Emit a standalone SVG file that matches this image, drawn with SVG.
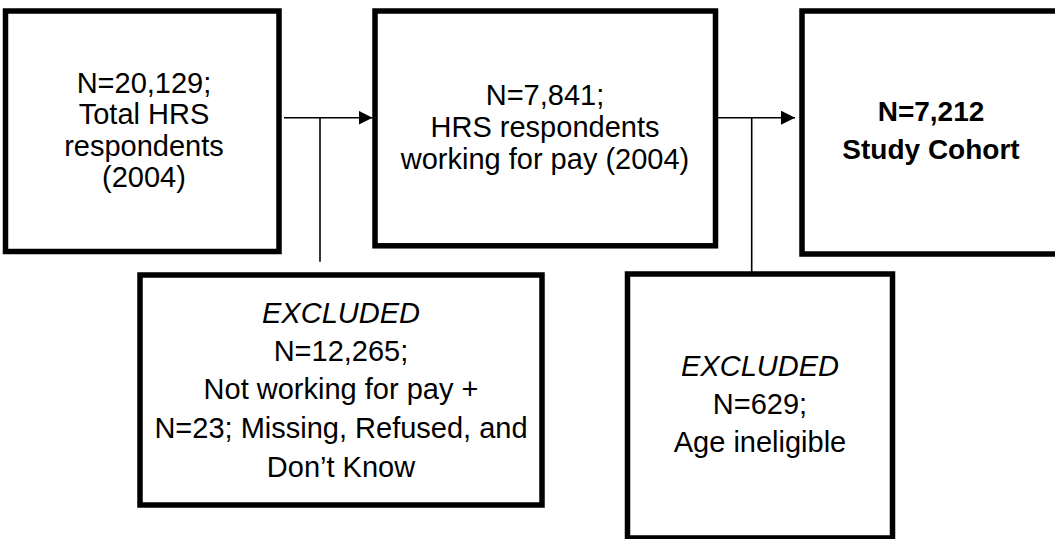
<svg xmlns="http://www.w3.org/2000/svg" width="1055" height="539" viewBox="0 0 1055 539">
  <defs>
    <style>
      .box { fill: #ffffff; stroke: #000000; stroke-width: 5.5; }
      .conn { fill: none; stroke: #000000; stroke-width: 1.6; }
      .txt { font-family: "Liberation Sans", Arial, sans-serif; font-size: 29px; fill: #000000; text-anchor: middle; }
      .bold { font-weight: bold; font-size: 28px; }
      .ital { font-style: italic; }
    </style>
    <marker id="arrow" viewBox="0 0 14 14" refX="14" refY="7" markerWidth="14" markerHeight="14" markerUnits="userSpaceOnUse" orient="auto">
      <path d="M0,0 L14,7 L0,14 Z" fill="#000000"/>
    </marker>
  </defs>
  <rect width="1055" height="539" fill="#ffffff"/>

  <!-- flow connectors -->
  <g id="connectors">
    <line class="conn" x1="284" y1="117.7" x2="372.5" y2="117.7" marker-end="url(#arrow)"/>
    <line class="conn" x1="320" y1="117.7" x2="320" y2="261.7"/>
    <line class="conn" x1="718" y1="117.7" x2="795" y2="117.7" marker-end="url(#arrow)"/>
    <line class="conn" x1="751.7" y1="117.7" x2="751.7" y2="273"/>
  </g>

  <g id="total-respondents">
    <rect class="box" x="5.5" y="11" width="273.5" height="240.5"/>
    <text class="txt" x="144" y="93">N=20,129;</text>
    <text class="txt" x="144" y="124.3">Total HRS</text>
    <text class="txt" x="144" y="155.6">respondents</text>
    <text class="txt" x="144" y="186.5">(2004)</text>
  </g>

  <g id="working-for-pay">
    <rect class="box" x="375" y="11" width="340.5" height="234.8"/>
    <text class="txt" x="545" y="105">N=7,841;</text>
    <text class="txt" x="545" y="137">HRS respondents</text>
    <text class="txt" x="545" y="168.5">working for pay (2004)</text>
  </g>

  <g id="study-cohort">
    <rect class="box" x="802" y="11" width="270" height="243"/>
    <text class="txt bold" x="931" y="121">N=7,212</text>
    <text class="txt bold" x="931" y="159">Study Cohort</text>
  </g>

  <g id="excluded-not-working">
    <rect class="box" x="140" y="275" width="402" height="230"/>
    <text class="txt ital" x="341" y="322.7">EXCLUDED</text>
    <text class="txt" x="341" y="360.7">N=12,265;</text>
    <text class="txt" x="341" y="398.5">Not working for pay +</text>
    <text class="txt" x="341" y="438">N=23; Missing, Refused, and</text>
    <text class="txt" x="341" y="477">Don’t Know</text>
  </g>

  <g id="excluded-age">
    <rect class="box" x="627.5" y="274" width="265" height="264"/>
    <text class="txt ital" x="760" y="376">EXCLUDED</text>
    <text class="txt" x="760" y="413.5">N=629;</text>
    <text class="txt" x="760" y="452">Age ineligible</text>
  </g>
</svg>
